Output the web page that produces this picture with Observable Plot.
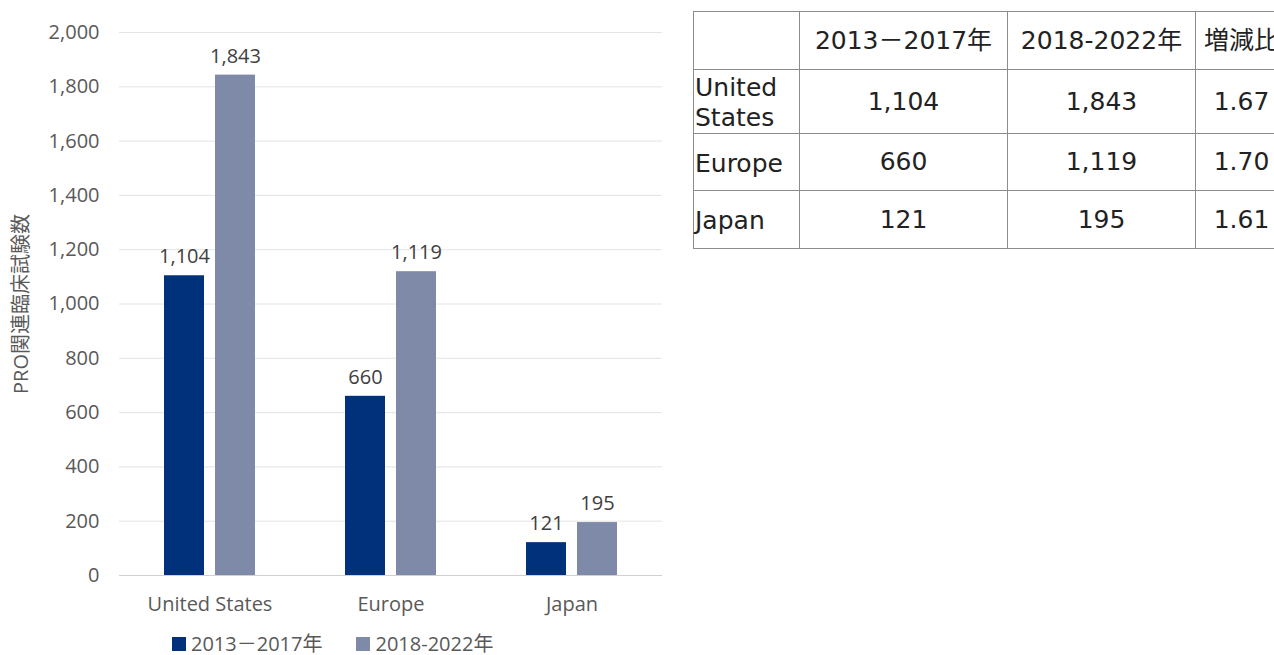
<!DOCTYPE html>
<html>
<head>
<meta charset="utf-8">
<script src="https://cdn.jsdelivr.net/npm/d3@7"></script>
<script src="https://cdn.jsdelivr.net/npm/@observablehq/plot@0.6"></script>
<style>
  html, body { margin: 0; padding: 0; background: #fff; overflow: hidden; width: 1274px; height: 655px; }
  #chart { position: absolute; left: 0; top: 0; }
  #legend { position: absolute; left: 172px; top: 632px; display: flex; gap: 34px;
    font-family: "Open Sans", "Noto Sans CJK JP", sans-serif; font-size: 20px; color: #595959; line-height: 24px; }
  #legend .item { display: flex; align-items: center; }
  #legend .sw { width: 14px; height: 14px; margin-right: 5px; }
  #tbl { position: absolute; left: 693px; top: 11px; border-collapse: collapse; table-layout: fixed; width: 594px;
    font-family: "DejaVu Sans", "Noto Sans CJK JP", sans-serif; font-size: 25px; color: #222; }
  #tbl td { border: 1.5px solid #8c8c8c; padding: 0 2px; text-align: center; vertical-align: middle; line-height: 30px; white-space: normal; }
  #tbl td.rh { text-align: left; padding-left: 1px; padding-top: 3px; }
</style>
</head>
<body>
<div id="chart"></div>
<div id="legend"></div>
<table id="tbl"></table>
<script>
const regions = ["United States", "Europe", "Japan"];
const periods = ["2013－2017年", "2018-2022年"];
const values2013 = [1104, 660, 121];
const values2018 = [1843, 1119, 195];
const ratios = ["1.67", "1.70", "1.61"];
const tableHeader = ["", "2013－2017年", "2018-2022年", "増減比"];
const yTicks = [0, 200, 400, 600, 800, 1000, 1200, 1400, 1600, 1800, 2000];
const yLabel = "PRO関連臨床試験数";
const colors = ["#00317a", "#7f89a8"];

const data = [];
regions.forEach((r, i) => {
  data.push({region: r, period: periods[0], value: values2013[i]});
  data.push({region: r, period: periods[1], value: values2018[i]});
});
const fmt = d3.format(",");

const chart = Plot.plot({
  width: 680,
  height: 625,
  marginLeft: 118,
  marginRight: 17,
  marginTop: 32,
  marginBottom: 50,
  style: {fontFamily: "'Open Sans', 'Noto Sans CJK JP', sans-serif", fontSize: "20px", color: "#595959", background: "#fff"},
  fx: {domain: regions, padding: 0, label: null},
  x: {domain: periods, paddingInner: 0.21, paddingOuter: 0.85, axis: null},
  y: {domain: [0, 2000], label: null},
  color: {domain: periods, range: colors},
  marks: [
    Plot.ruleY(yTicks.filter(d => d > 0), {stroke: "#e4e4e4", strokeWidth: 1}),
    Plot.ruleY([0], {stroke: "#d0d0d0", strokeWidth: 1.2}),
    Plot.barY(data, {fx: "region", x: "period", y: "value", fill: "period"}),
    Plot.text(data, {fx: "region", x: "period", y: "value", text: d => fmt(d.value), dy: -19, fill: "#404040", fontSize: 20}),
    Plot.axisY({ticks: yTicks, tickFormat: fmt, tickSize: 0, tickPadding: 20, fontSize: 20, label: yLabel, labelArrow: "none", labelAnchor: "center", labelOffset: 106, fill: "#595959"}),
    Plot.axisFx({anchor: "bottom", tickSize: 0, tickPadding: 21, fontSize: 20, label: null, fill: "#595959"})
  ]
});
// remove any arrow glyph that an older Plot build may append to the axis label
d3.select(chart).selectAll("text").each(function() {
  if (this.textContent.includes(yLabel) && this.textContent !== yLabel) this.textContent = yLabel;
});
document.getElementById("chart").appendChild(chart);

const legend = document.getElementById("legend");
periods.forEach((p, i) => {
  const it = document.createElement("div");
  it.className = "item";
  it.innerHTML = `<span class="sw" style="background:${colors[i]}"></span><span>${p}</span>`;
  legend.appendChild(it);
});

const tbl = document.getElementById("tbl");
const colW = [106, 208, 188, 92];
const rowH = [58, 63, 57, 58];
const cg = document.createElement("colgroup");
colW.forEach(w => { const c = document.createElement("col"); c.style.width = w + "px"; cg.appendChild(c); });
tbl.appendChild(cg);
const rows = [tableHeader].concat(regions.map((r, i) => [r, fmt(values2013[i]), fmt(values2018[i]), ratios[i]]));
rows.forEach((row, ri) => {
  const tr = document.createElement("tr");
  tr.style.height = rowH[ri] + "px";
  row.forEach((c, ci) => {
    const td = document.createElement("td");
    if (ci === 0 && ri > 0) td.className = "rh";
    td.textContent = c;
    tr.appendChild(td);
  });
  tbl.appendChild(tr);
});
</script>
</body>
</html>
